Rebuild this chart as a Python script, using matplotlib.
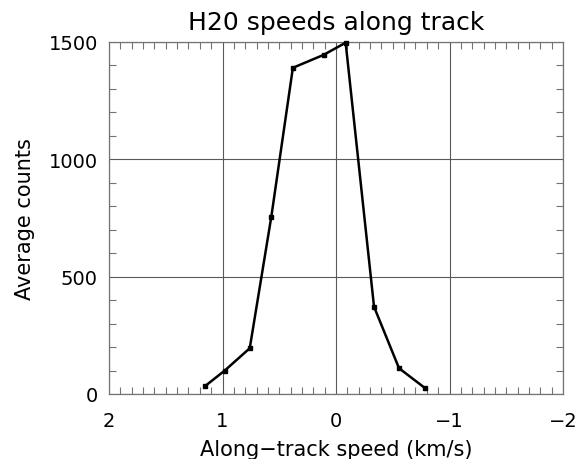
import numpy as np
import matplotlib
matplotlib.use("Agg")
import matplotlib.pyplot as plt
from matplotlib.ticker import MultipleLocator

# along-track speed (km/s) and average counts
speed = [1.15, 0.98, 0.76, 0.57, 0.38, 0.11, -0.085, -0.335, -0.555, -0.785]
counts = [35, 100, 195, 755, 1390, 1445, 1497, 372, 110, 25]

xticks = [2, 1, 0, -1, -2]
xticklabels = ["2", "1", "0", "\u22121", "\u22122"]
yticks = [0, 500, 1000, 1500]

plt.rcParams["font.family"] = ["DejaVu Sans"]

fig = plt.figure(figsize=(5.85, 4.6), dpi=100)
ax = fig.add_axes([109 / 585, 1 - 395 / 460, 454 / 585, 352 / 460])

ax.plot(speed, counts, color="black", lw=1.8, marker="s", ms=3.5,
        clip_on=False, zorder=5)

ax.set_xlim(2, -2)
ax.set_ylim(0, 1500)
ax.set_xticks(xticks)
ax.set_xticklabels(xticklabels)
ax.set_yticks(yticks)
ax.xaxis.set_minor_locator(MultipleLocator(0.1))
ax.yaxis.set_minor_locator(MultipleLocator(100))

ax.grid(True, which="major", color="0.35", lw=0.8)
ax.tick_params(which="both", direction="in", top=True, right=True,
               colors="0.45", labelcolor="black", labelsize=14)
ax.tick_params(which="major", length=0)
ax.tick_params(axis="x", which="major", pad=12)
ax.tick_params(axis="y", which="major", pad=8)
ax.tick_params(which="minor", length=5, width=0.8)
for s in ax.spines.values():
    s.set_color("0.45")
    s.set_linewidth(0.9)

ax.set_title("H20 speeds along track", fontsize=18, pad=9)
ax.set_xlabel("Along\u2212track speed (km/s)", fontsize=15, labelpad=7)
ax.set_ylabel("Average counts", fontsize=15, labelpad=10)

fig.savefig("out.png", dpi=100)
